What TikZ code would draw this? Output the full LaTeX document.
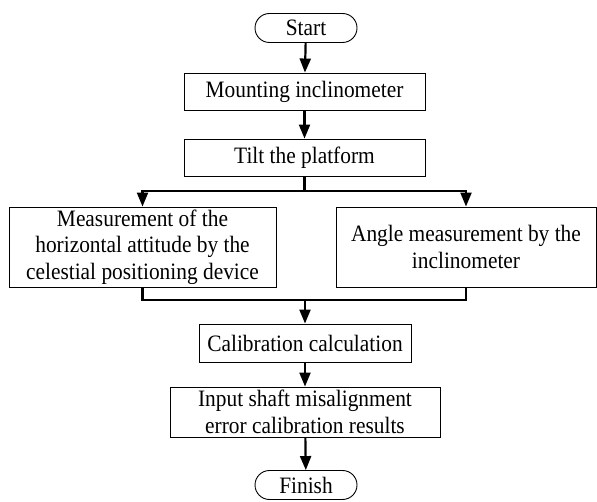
\documentclass[tikz,border=0pt]{standalone}
\usepackage{fontspec}
\setmainfont[FakeStretch=0.91]{Liberation Serif}
\usetikzlibrary{arrows.meta,shapes.misc}
\begin{document}
\begin{tikzpicture}[x=1pt,y=-1pt,
  every node/.style={font=\fontsize{23.5}{26.5}\selectfont, inner sep=0pt, align=center},
  pill/.style={draw, line width=0.9pt, rounded rectangle, minimum width=102pt, minimum height=29pt},
  procbox/.style={draw, line width=0.9pt, rectangle},
  conn/.style={line width=2.2pt},
  arr/.style={line width=2.2pt, -{Triangle[length=14pt,width=11pt]}}
]
\useasboundingbox (0,0) rectangle (597,502);
\node[pill] (start) at (306,28) {Start};
\node[procbox, minimum width=241pt, minimum height=37pt] (mount) at (304.5,91.5) {Mounting inclinometer};
\node[procbox, minimum width=241pt, minimum height=37pt] (tilt) at (304.5,157.5) {Tilt the platform};
\node[procbox, minimum width=267pt, minimum height=80pt] (left) at (142.5,247) {Measurement of the\\horizontal attitude by the\\celestial positioning device};
\node[procbox, minimum width=260pt, minimum height=80pt] (right) at (466,247) {Angle measurement by the\\inclinometer};
\node[procbox, minimum width=212pt, minimum height=38pt] (calc) at (305,343) {Calibration calculation};
\node[procbox, minimum width=270pt, minimum height=50pt] (input) at (305,412) {Input shaft misalignment\\error calibration results};
\node[pill] (finish) at (306,485) {Finish};
\coordinate (split) at (304.5,191);
\coordinate (mrg) at (305,300);
\draw[arr] (start) -- (mount);
\draw[arr] (mount) -- (tilt);
\draw[conn] (tilt.south) -- (split);
\draw[arr] (split) -| (left.north);
\draw[arr] (split) -| (right.north);
\draw[conn] (left.south) |- (mrg) -| (right.south);
\draw[arr] (mrg) -- (calc.north);
\draw[arr] (calc) -- (input);
\draw[arr] (input) -- (finish);
\end{tikzpicture}
\end{document}
